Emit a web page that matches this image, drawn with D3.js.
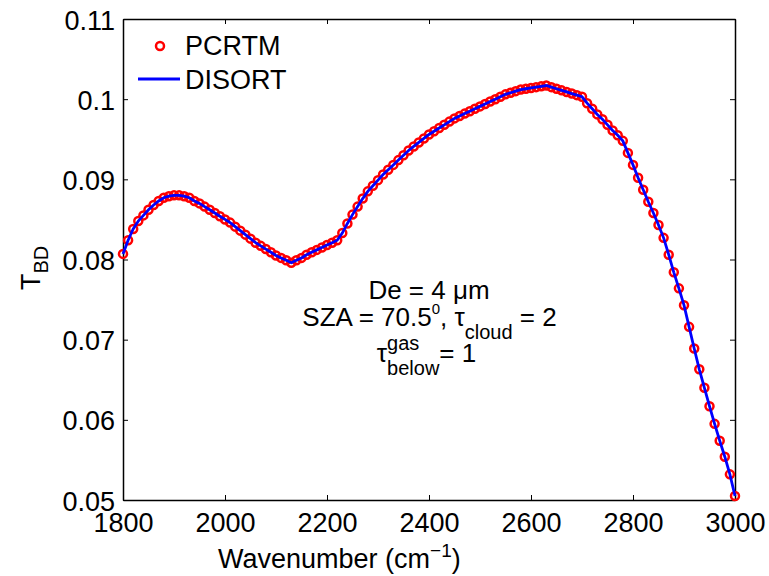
<!DOCTYPE html>
<html lang="en">
<head>
  <meta charset="UTF-8">
  <title>T_BD vs wavenumber</title>
  <script src="https://d3js.org/d3.v7.min.js"></script>
  <style>
    body { margin: 0; background: #fff; }
    svg text { font-family: "Liberation Sans", Arial, Helvetica, sans-serif; fill: #000; }
  </style>
</head>
<body>
  <svg id="chart" width="769" height="576"></svg>
<script>
  // wavenumber grid (cm^-1), one marker every 10
  const wavenumbers = [
    1800, 1810, 1820, 1830, 1840, 1850, 1860, 1870, 1880, 1890,
    1900, 1910, 1920, 1930, 1940, 1950, 1960, 1970, 1980, 1990,
    2000, 2010, 2020, 2030, 2040, 2050, 2060, 2070, 2080, 2090,
    2100, 2110, 2120, 2130, 2140, 2150, 2160, 2170, 2180, 2190,
    2200, 2210, 2220, 2230, 2240, 2250, 2260, 2270, 2280, 2290,
    2300, 2310, 2320, 2330, 2340, 2350, 2360, 2370, 2380, 2390,
    2400, 2410, 2420, 2430, 2440, 2450, 2460, 2470, 2480, 2490,
    2500, 2510, 2520, 2530, 2540, 2550, 2560, 2570, 2580, 2590,
    2600, 2610, 2620, 2630, 2640, 2650, 2660, 2670, 2680, 2690,
    2700, 2710, 2720, 2730, 2740, 2750, 2760, 2770, 2780, 2790,
    2800, 2810, 2820, 2830, 2840, 2850, 2860, 2870, 2880, 2890,
    2900, 2910, 2920, 2930, 2940, 2950, 2960, 2970, 2980, 2990,
    3000
  ];

  // PCRTM and DISORT overlap at this resolution, both
  const pcrtm = [
    0.0807, 0.0824, 0.0838, 0.0848, 0.0855, 0.0862, 0.0868, 0.0873, 0.0877, 0.0879,
    0.0880, 0.0880, 0.0879, 0.0877, 0.0873, 0.0870, 0.0866, 0.0862, 0.0858, 0.0854,
    0.0850, 0.0846, 0.0841, 0.0836, 0.0831, 0.0826, 0.0821, 0.0817, 0.0813, 0.0809,
    0.0805, 0.0802, 0.0799, 0.0796, 0.0799, 0.0802, 0.0806, 0.0809, 0.0812, 0.0815,
    0.0818, 0.0821, 0.0824, 0.0833, 0.0845, 0.0856, 0.0866, 0.0876, 0.0885, 0.0892,
    0.0899, 0.0906, 0.0912, 0.0918, 0.0924, 0.0930, 0.0936, 0.0941, 0.0946, 0.0951,
    0.0956, 0.0960, 0.0964, 0.0968, 0.0972, 0.0976, 0.0979, 0.0982, 0.0985, 0.0988,
    0.0991, 0.0994, 0.0997, 0.1000, 0.1003, 0.1006, 0.1008, 0.1010, 0.1012, 0.1013,
    0.1014, 0.1015, 0.1016, 0.1017, 0.1015, 0.1013, 0.1011, 0.1009, 0.1007, 0.1005,
    0.1003, 0.0995, 0.0988, 0.0981, 0.0975, 0.0968, 0.0961, 0.0955, 0.0948, 0.0933,
    0.0918, 0.0902, 0.0887, 0.0872, 0.0858, 0.0843, 0.0827, 0.0806, 0.0784, 0.0764,
    0.0743, 0.0716, 0.0689, 0.0663, 0.0640, 0.0617, 0.0595, 0.0574, 0.0554, 0.0532,
    0.0505
  ];
  const disort = pcrtm;

  const xTicks = [1800, 2000, 2200, 2400, 2600, 2800, 3000];
  const yTicks = [0.05, 0.06, 0.07, 0.08, 0.09, 0.1, 0.11];
  const yTickLabels = ["0.05", "0.06", "0.07", "0.08", "0.09", "0.1", "0.11"];

  const svg = d3.select("#chart");
  const margin = { top: 19, right: 34, bottom: 76, left: 123 };
  const W = 769, H = 576;

  const x = d3.scaleLinear().domain([1800, 3000]).range([margin.left, W - margin.right]);
  const y = d3.scaleLinear().domain([0.05, 0.11]).range([H - margin.bottom, margin.top]);

  const tickLen = 5;

  // bottom axis with labels
  svg.append("g")
    .attr("transform", `translate(0,${H - margin.bottom})`)
    .call(d3.axisBottom(x).tickValues(xTicks).tickSize(-tickLen).tickSizeOuter(0).tickFormat(d3.format("d")))
    .call(g => g.selectAll("text").attr("y", 32).attr("dy", null).attr("font-size", 27));

  // left axis with labels
  svg.append("g")
    .attr("transform", `translate(${margin.left},0)`)
    .call(d3.axisLeft(y).tickValues(yTicks).tickSize(-tickLen).tickSizeOuter(0)
      .tickFormat((d, i) => yTickLabels[i]))
    .call(g => g.selectAll("text").attr("x", -8).attr("dy", null).attr("y", 10).attr("font-size", 27));

  // mirrored top and right axes, no labels
  svg.append("g")
    .attr("transform", `translate(0,${margin.top})`)
    .call(d3.axisTop(x).tickValues(xTicks).tickSize(-tickLen).tickSizeOuter(0).tickFormat(""));
  svg.append("g")
    .attr("transform", `translate(${W - margin.right},0)`)
    .call(d3.axisRight(y).tickValues(yTicks).tickSize(-tickLen).tickSizeOuter(0).tickFormat(""));

  svg.selectAll(".domain").attr("stroke", "#000").attr("stroke-width", 1.5);
  svg.selectAll(".tick line").attr("stroke", "#000").attr("stroke-width", 1);
  svg.selectAll("g").attr("font-family", null);

  // PCRTM markers
  const pts = wavenumbers.map((w, i) => ({ w, v: pcrtm[i] }));
  svg.append("g")
    .selectAll("circle")
    .data(pts)
    .join("circle")
    .attr("cx", d => x(d.w))
    .attr("cy", d => y(d.v))
    .attr("r", 4)
    .attr("fill", "none")
    .attr("stroke", "#ff0000")
    .attr("stroke-width", 2.5);

  // DISORT line
  const line = d3.line().x((d, i) => x(wavenumbers[i])).y(d => y(d));
  svg.append("path")
    .datum(disort)
    .attr("d", line)
    .attr("fill", "none")
    .attr("stroke", "#0000ff")
    .attr("stroke-width", 2.8);

  // legend
  svg.append("circle").attr("cx", 160).attr("cy", 46).attr("r", 4)
    .attr("fill", "none").attr("stroke", "#ff0000").attr("stroke-width", 2.5);
  svg.append("text").attr("x", 185).attr("y", 55).attr("font-size", 27).text("PCRTM");
  svg.append("line").attr("x1", 138).attr("x2", 180).attr("y1", 79).attr("y2", 79)
    .attr("stroke", "#0000ff").attr("stroke-width", 2.8);
  svg.append("text").attr("x", 185).attr("y", 89).attr("font-size", 27).text("DISORT");

  // axis titles
  const xl = svg.append("text").attr("x", 218).attr("y", 568).attr("font-size", 27);
  xl.append("tspan").text("Wavenumber (cm");
  xl.append("tspan").attr("font-size", 19).attr("dy", -11).text("\u22121");
  xl.append("tspan").attr("dy", 11).text(")");

  const yl = svg.append("text").attr("transform", "translate(40,290) rotate(-90)").attr("font-size", 27);
  yl.append("tspan").text("T");
  yl.append("tspan").attr("font-size", 20).attr("dy", 8).text("BD");

  // annotation
  svg.append("text").attr("x", 429).attr("y", 299).attr("text-anchor", "middle")
    .attr("font-size", 26).text("De = 4 \u03bcm");

  const l2 = svg.append("text").attr("x", 429.5).attr("y", 326).attr("text-anchor", "middle").attr("font-size", 26);
  l2.append("tspan").text("SZA = 70.5");
  l2.append("tspan").attr("font-size", 15).attr("dy", -12).text("0");
  l2.append("tspan").attr("dy", 12).text(", \u03c4");
  l2.append("tspan").attr("font-size", 20).attr("dy", 13).text("cloud");
  l2.append("tspan").attr("dy", -13).text(" = 2");

  // third line: tau with stacked super/subscript
  const l3 = svg.append("g");
  const tau = l3.append("text").attr("x", 0).attr("y", 362).attr("font-size", 26).text("\u03c4");
  const wTau = tau.node().getComputedTextLength();
  const gas = l3.append("text").attr("x", wTau).attr("y", 350).attr("font-size", 20).text("gas");
  const below = l3.append("text").attr("x", wTau).attr("y", 375).attr("font-size", 20).text("below");
  const wSub = Math.max(gas.node().getComputedTextLength(), below.node().getComputedTextLength());
  const eq = l3.append("text").attr("x", wTau + wSub).attr("y", 362).attr("font-size", 26).text(" = 1");
  const total = wTau + wSub + eq.node().getComputedTextLength();
  l3.attr("transform", `translate(${426.5 - total / 2},0)`);
</script>
</body>
</html>
